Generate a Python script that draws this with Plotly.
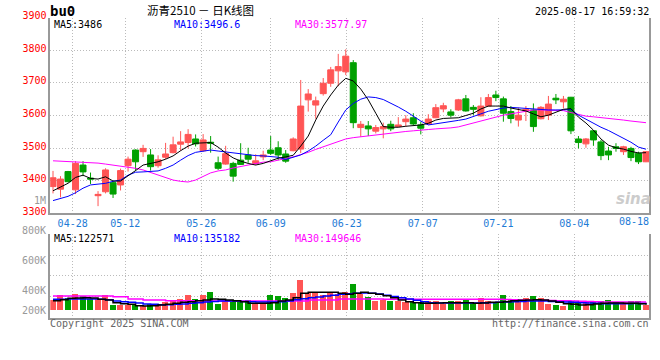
import plotly.graph_objects as go

# ---------------- data ----------------
dates = [
    "04-22", "04-23", "04-24", "04-25", "04-28", "04-29", "04-30",
    "05-06", "05-07", "05-08", "05-09", "05-12", "05-13", "05-14", "05-15", "05-16",
    "05-19", "05-20", "05-21", "05-22", "05-23", "05-26", "05-27", "05-28", "05-29", "05-30",
    "06-03", "06-04", "06-05", "06-06", "06-09", "06-10", "06-11", "06-12", "06-13",
    "06-16", "06-17", "06-18", "06-19", "06-20", "06-23", "06-24", "06-25", "06-26", "06-27",
    "06-30", "07-01", "07-02", "07-03", "07-04", "07-07", "07-08", "07-09", "07-10", "07-11",
    "07-14", "07-15", "07-16", "07-17", "07-18", "07-21", "07-22", "07-23", "07-24", "07-25",
    "07-28", "07-29", "07-30", "07-31", "08-01", "08-04", "08-05", "08-06", "08-07", "08-08",
    "08-11", "08-12", "08-13", "08-14", "08-15",
]

opens = [3382, 3374, 3428, 3372, 3448, 3408, 3354, 3366, 3394, 3387,
         3446, 3494, 3489, 3479, 3446, 3472, 3486, 3512, 3517, 3528,
         3492, 3518, 3455, 3451, 3453, 3463, 3479, 3453, 3473, 3494,
         3501, 3482, 3492, 3497, 3648, 3632, 3667, 3699, 3737, 3734,
         3762, 3563, 3568, 3552, 3559, 3573, 3566, 3581, 3593, 3571,
         3574, 3593, 3620, 3611, 3617, 3651, 3625, 3599, 3629, 3663,
         3651, 3612, 3586, 3614, 3617, 3590, 3601, 3653, 3642, 3656,
         3528, 3513, 3553, 3519, 3491, 3504, 3489, 3499, 3484, 3458]
highs = [3430, 3414, 3430, 3460, 3460, 3425, 3368, 3438, 3396, 3437,
         3474, 3496, 3510, 3497, 3478, 3516, 3535, 3552, 3558, 3542,
         3543, 3537, 3474, 3507, 3458, 3515, 3501, 3481, 3492, 3537,
         3521, 3494, 3533, 3709, 3681, 3658, 3715, 3749, 3789, 3803,
         3770, 3583, 3583, 3571, 3578, 3584, 3595, 3601, 3607, 3581,
         3604, 3635, 3639, 3619, 3651, 3663, 3632, 3656, 3666, 3676,
         3658, 3629, 3624, 3629, 3637, 3629, 3660, 3666, 3660, 3657,
         3537, 3531, 3555, 3525, 3504, 3515, 3507, 3504, 3489, 3490]
lows = [3361, 3349, 3395, 3359, 3414, 3390, 3322, 3361, 3347, 3370,
        3428, 3430, 3473, 3431, 3440, 3466, 3484, 3492, 3499, 3505,
        3489, 3486, 3433, 3449, 3397, 3448, 3455, 3448, 3463, 3479,
        3463, 3455, 3490, 3485, 3612, 3590, 3661, 3688, 3690, 3724,
        3561, 3535, 3537, 3545, 3530, 3552, 3564, 3566, 3570, 3542,
        3572, 3592, 3610, 3594, 3614, 3612, 3601, 3597, 3627, 3644,
        3581, 3576, 3566, 3583, 3550, 3588, 3586, 3635, 3622, 3543,
        3499, 3501, 3507, 3463, 3463, 3489, 3479, 3460, 3451, 3457]
closes = [3409, 3405, 3397, 3453, 3427, 3405, 3358, 3433, 3359, 3431,
          3466, 3458, 3499, 3443, 3464, 3482, 3510, 3519, 3542, 3513,
          3525, 3515, 3438, 3483, 3414, 3450, 3466, 3461, 3479, 3484,
          3479, 3460, 3528, 3629, 3666, 3645, 3699, 3740, 3750, 3782,
          3578, 3573, 3559, 3563, 3566, 3559, 3571, 3589, 3574, 3561,
          3589, 3624, 3630, 3601, 3648, 3614, 3619, 3629, 3655, 3655,
          3607, 3591, 3601, 3619, 3566, 3625, 3635, 3648, 3650, 3553,
          3517, 3528, 3525, 3477, 3479, 3499, 3504, 3471, 3458, 3489]

ma5 = [3369, 3380, 3392, 3410, 3417, 3407, 3405, 3412, 3399, 3399,
       3414, 3431, 3448, 3453, 3458, 3466, 3476, 3492, 3506, 3515,
       3515, 3517, 3503, 3485, 3470, 3460, 3453, 3448, 3453, 3460,
       3469, 3473, 3478, 3506, 3537, 3586, 3629, 3663, 3693, 3714,
       3706, 3681, 3648, 3607, 3566, 3564, 3564, 3567, 3568, 3571,
       3576, 3586, 3591, 3592, 3593, 3600, 3607, 3620, 3629, 3629,
       3629, 3623, 3618, 3614, 3605, 3596, 3601, 3611, 3619, 3621,
       3595, 3577, 3555, 3528, 3509, 3501, 3497, 3490, 3485, 3486]
ma10 = [3339, 3345, 3352, 3363, 3377, 3387, 3390, 3392, 3398, 3402,
        3417, 3426, 3427, 3428, 3430, 3438, 3448, 3463, 3477, 3487,
        3491, 3494, 3491, 3488, 3485, 3483, 3479, 3477, 3476, 3474,
        3472, 3465, 3471, 3479, 3491, 3506, 3524, 3541, 3580, 3617,
        3637, 3650, 3657, 3655, 3649, 3638, 3626, 3613, 3598, 3583,
        3571, 3574, 3578, 3582, 3585, 3589, 3598, 3605, 3613, 3619,
        3623, 3625, 3623, 3621, 3619, 3617, 3617, 3617, 3618, 3618,
        3601, 3588, 3575, 3564, 3554, 3542, 3529, 3518, 3503, 3496.6]
ma30 = [3461, 3460, 3459, 3458, 3457, 3456, 3454, 3451, 3448, 3445,
        3442, 3438, 3433, 3425, 3417, 3409, 3402, 3398, 3396, 3402,
        3414, 3424, 3430, 3433, 3439, 3443, 3448, 3451, 3457, 3458,
        3462, 3468, 3473, 3479, 3487, 3496, 3504, 3510, 3519, 3528,
        3532, 3535, 3538, 3540, 3543, 3546, 3549, 3551, 3553, 3556,
        3557, 3559, 3560, 3562, 3565, 3571, 3577, 3583, 3591, 3597,
        3601, 3605, 3609, 3612, 3617, 3617, 3617, 3616, 3615, 3609,
        3603, 3598, 3596, 3594, 3592, 3589, 3586, 3583, 3580, 3577.97]

volumes = [168000, 209000, 184000, 223000, 206000, 178000, 178000, 209000, 114000, 114000,
           114000, 120000, 104000, 130000, 130000, 142000, 152000, 178000, 209000, 178000,
           216000, 238000, 130000, 162000, 152000, 152000, 162000, 130000, 130000, 216000,
           200000, 184000, 232000, 360000, 232000, 242000, 216000, 242000, 223000, 242000,
           322000, 226000, 194000, 158000, 168000, 158000, 152000, 146000, 146000, 146000,
           152000, 152000, 130000, 158000, 158000, 168000, 136000, 184000, 158000, 146000,
           209000, 178000, 168000, 184000, 200000, 184000, 130000, 120000, 110000, 158000,
           146000, 146000, 158000, 158000, 168000, 146000, 146000, 158000, 158000, 114000]
vol_ma5 = [161000, 171000, 184000, 187000, 190000, 187000, 175000, 168000, 142000, 132000,
           127000, 113000, 110000, 113000, 120000, 127000, 136000, 146000, 152000, 161000,
           168000, 178000, 175000, 168000, 161000, 152000, 136000, 136000, 136000, 142000,
           158000, 168000, 190000, 232000, 242000, 242000, 242000, 242000, 232000, 223000,
           232000, 242000, 232000, 223000, 209000, 190000, 168000, 152000, 142000, 136000,
           136000, 139000, 142000, 142000, 142000, 142000, 136000, 139000, 146000, 146000,
           152000, 161000, 165000, 168000, 171000, 168000, 158000, 146000, 132000, 127000,
           120000, 123000, 130000, 136000, 139000, 139000, 136000, 136000, 132000, 122571]
vol_ma10 = [175000, 175000, 178000, 178000, 178000, 178000, 175000, 171000, 158000, 152000,
            146000, 139000, 130000, 127000, 123000, 123000, 127000, 130000, 136000, 142000,
            149000, 155000, 158000, 158000, 158000, 155000, 152000, 149000, 149000, 149000,
            152000, 158000, 171000, 180000, 190000, 197000, 206000, 213000, 223000, 228000,
            232000, 235000, 232000, 226000, 213000, 203000, 190000, 178000, 165000, 152000,
            142000, 139000, 139000, 139000, 139000, 139000, 139000, 142000, 142000, 146000,
            149000, 152000, 155000, 158000, 158000, 158000, 155000, 152000, 149000, 146000,
            142000, 139000, 136000, 133000, 132000, 132000, 133000, 134000, 135000, 135182]
vol_ma30 = [206000, 206000, 206000, 206000, 206000, 206000, 206000, 206000, 199000, 199000,
            178000, 178000, 168000, 168000, 168000, 161000, 161000, 161000, 161000, 161000,
            158000, 158000, 158000, 158000, 158000, 158000, 158000, 158000, 158000, 158000,
            158000, 158000, 158000, 158000, 168000, 168000, 168000, 168000, 178000, 178000,
            178000, 178000, 178000, 178000, 176000, 176000, 175000, 175000, 175000, 175000,
            175000, 175000, 175000, 175000, 175000, 175000, 175000, 175000, 175000, 175000,
            172000, 170000, 168000, 168000, 168000, 166000, 164000, 162000, 161000, 158000,
            156000, 154000, 152000, 150000, 149000, 149000, 149000, 149000, 149500, 149646]

tick_labels = ["04-28", "05-12", "05-26", "06-09", "06-23", "07-07", "07-21", "08-04"]
last_tick_label = "08-18"
price_ticks = [3300, 3400, 3500, 3600, 3700, 3800, 3900]
vol_grid = [200000, 400000, 600000, 800000]
vol_tick_labels = ["1M", "800K", "600K", "400K", "200K"]

symbol = "bu0"
title_text = "沥青2510 － 日K线图"
timestamp = "2025-08-17 16:59:32"

# ---------------- layout constants (screen pixels) ----------------
W, H = 660, 360
PX_L, PX_R = 50.3, 649.3
P_TOP, P_BOT = 17.7, 213.3
V_TOP, V_BOT = 234.3, 317.5
X_RANGE = [-0.36, 79.44]
TICK_POS = [2.62, 9.63, 19.76, 29.0, 39.13, 49.26, 59.33, 69.45]
VOL_BASE = 65000

UP = "#FF5555"
DOWN = "#00A000"
GRID = "#BBBBBB"
FRAME = "#999999"
MONO = "DejaVu Sans Mono, monospace"
TICKBLUE = "#1E7BD6"


def fx(x):
    return x / W


def fy(y):
    return 1 - y / H


idx = list(range(len(dates)))
bar_colors = [UP if c >= o else DOWN for o, c in zip(opens, closes)]

fig = go.Figure()

fig.add_trace(go.Candlestick(
    x=idx, open=opens, high=highs, low=lows, close=closes,
    hovertext=dates,
    increasing=dict(line=dict(color=UP, width=1), fillcolor=UP),
    decreasing=dict(line=dict(color=DOWN, width=1), fillcolor=DOWN),
    whiskerwidth=0, xaxis="x", yaxis="y",
))
for vals, col in [(ma30, "#FF00FF"), (ma10, "#0000FF"), (ma5, "#000000")]:
    fig.add_trace(go.Scatter(x=idx, y=vals, mode="lines",
                             line=dict(color=col, width=1),
                             xaxis="x", yaxis="y", hoverinfo="skip"))

fig.add_trace(go.Bar(
    x=idx, y=[v - VOL_BASE for v in volumes], base=VOL_BASE,
    marker=dict(color=bar_colors, line=dict(width=0)), width=0.8,
    xaxis="x2", yaxis="y2",
))
for vals, col in [(vol_ma30, "#FF00FF"), (vol_ma10, "#0000FF"), (vol_ma5, "#000000")]:
    fig.add_trace(go.Scatter(x=idx, y=vals, mode="lines",
                             line=dict(color=col, width=1.5, shape="hv"),
                             xaxis="x2", yaxis="y2", hoverinfo="skip"))

xcommon = dict(
    domain=[fx(PX_L), fx(PX_R)], range=X_RANGE, tickvals=TICK_POS,
    showgrid=True, gridcolor=GRID, griddash="1px,2px", gridwidth=1,
    showline=True, linecolor=FRAME, linewidth=1.5, ticks="", zeroline=False,
    fixedrange=True,
)
ycommon = dict(
    showgrid=True, gridcolor=GRID, griddash="1px,2px", gridwidth=1,
    showline=True, mirror=True, linecolor=FRAME, linewidth=1.5,
    ticks="", zeroline=False, fixedrange=True,
)

fig.update_layout(
    width=W, height=H,
    margin=dict(l=0, r=0, t=0, b=0, autoexpand=False),
    paper_bgcolor="white", plot_bgcolor="white",
    showlegend=False, boxgap=0.2, boxgroupgap=0, bargap=0,
    xaxis=dict(**xcommon, anchor="y", ticktext=tick_labels,
               tickfont=dict(family=MONO, size=10, color=TICKBLUE),
               rangeslider=dict(visible=False)),
    yaxis=dict(**ycommon, domain=[fy(P_BOT), fy(P_TOP)], range=[3300, 3900],
               tickvals=price_ticks, tickfont=dict(family=MONO, size=10, color="#FF0000"),
               ticklabelshift=-2, anchor="x"),
    xaxis2=dict(**xcommon, anchor="y2", showticklabels=False),
    yaxis2=dict(**ycommon, domain=[fy(V_BOT), fy(V_TOP)], range=[0, 800000],
                tickvals=vol_grid, showticklabels=False, anchor="x2"),
)

ann = []


def text(x, y, s, color="#000000", size=10, anchor="left", family=MONO, **kw):
    ann.append(dict(x=fx(x), y=fy(y), xref="paper", yref="paper", text=s,
                    showarrow=False, xanchor=anchor, yanchor="middle",
                    font=dict(family=family, size=size, color=color, **kw),
                    borderpad=0))


text(49, 11, symbol, size=14, weight="bold")
text(200, 10, title_text, size=11.5, anchor="center", family="Noto Sans CJK SC")
text(650, 12, timestamp, anchor="right")
text(53, 24.2, f"MA5:{ma5[-1]:g}")
text(173, 24.2, f"MA10:{ma10[-1]:g}", color="#0000FF")
text(294, 24.2, f"MA30:{ma30[-1]:g}", color="#FF00FF")
text(53, 238.3, f"MA5:{vol_ma5[-1]}")
text(173, 238.3, f"MA10:{vol_ma10[-1]}", color="#0000FF")
text(294, 238.3, f"MA30:{vol_ma30[-1]}", color="#FF00FF")
for lbl, y in zip(vol_tick_labels, [200.3, 230.7, 260.7, 290.3, 310.3]):
    text(47, y, lbl, color="#999999", anchor="right")
text(650, 221.3, last_tick_label, color=TICKBLUE, anchor="right")
text(49, 323.3, "Copyright 2025 SINA.COM", color="#666666")
text(650, 323.3, "http://finance.sina.com.cn", color="#666666", anchor="right")
text(633, 199, "<i>sina</i>", color="#CCCCCC", size=15, anchor="center",
     family="DejaVu Sans", weight="bold")

fig.update_layout(annotations=ann)
# remove the default 8px page margin so the figure sits at the window's corner
fig.write_html("out.html",
               config={"displayModeBar": False},
               post_script="document.body.style.margin='0px';"
                           "document.body.style.overflow='hidden';")
